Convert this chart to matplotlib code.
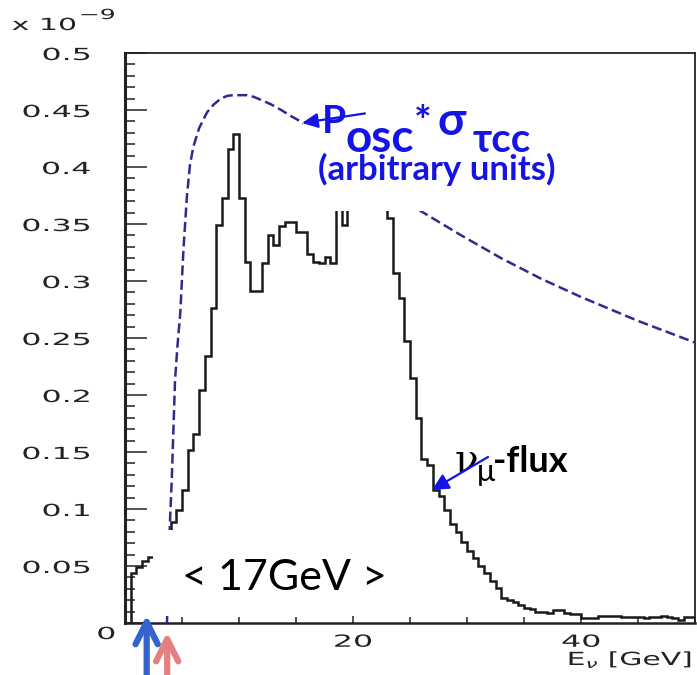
import numpy as np
import matplotlib
matplotlib.use("Agg")
import matplotlib.pyplot as plt
from matplotlib.patches import Rectangle
from matplotlib.patheffects import AbstractPathEffect
from matplotlib.ticker import MultipleLocator, FixedLocator
from matplotlib.transforms import Affine2D, ScaledTranslation

# nu_mu flux, 0.5 GeV bins from 0 to 50 GeV (in units of 1e-9)
bin_width = 0.5
flux = [
    0.000, 0.044, 0.049, 0.054, 0.058, 0.061, 0.066, 0.076, 0.089, 0.099,
    0.117, 0.152, 0.166, 0.204, 0.234, 0.276, 0.349, 0.373, 0.416, 0.429,
    0.373, 0.317, 0.291, 0.291, 0.316, 0.340, 0.332, 0.348, 0.352, 0.352,
    0.343, 0.343, 0.324, 0.317, 0.316, 0.321, 0.316, 0.380, 0.349, 0.400,
    0.420, 0.430, 0.440, 0.430, 0.420, 0.390, 0.355, 0.307, 0.285, 0.247,
    0.215, 0.180, 0.144, 0.139, 0.117, 0.111, 0.099, 0.087, 0.080, 0.071,
    0.063, 0.057, 0.050, 0.044, 0.037, 0.031, 0.022, 0.020, 0.018, 0.016,
    0.013, 0.012, 0.010, 0.010, 0.009, 0.011, 0.011, 0.009, 0.008, 0.008,
    0.004, 0.004, 0.004, 0.006, 0.006, 0.006, 0.006, 0.005, 0.005, 0.005,
    0.005, 0.004, 0.005, 0.005, 0.006, 0.005, 0.004, 0.003, 0.005, 0.005,
]

# P_osc * sigma_tau_CC (arbitrary units)
osc_energy = [3.68, 3.95, 4.1, 4.24, 4.39, 4.6, 4.85, 5.14, 5.43, 5.7, 6.0,
              6.5, 7.2, 7.8, 8.4, 9.0, 9.5, 10.7, 11.3, 11.9, 12.8, 13.7,
              14.5, 15.4, 17.0, 20.0, 23.0, 26.0, 29.5, 33.0, 36.5, 40.0,
              45.0, 50.0]
osc_sigma = [0.0, 0.09, 0.125, 0.168, 0.213, 0.243, 0.272, 0.33, 0.374, 0.402,
             0.418, 0.434, 0.448, 0.455, 0.460, 0.4625, 0.463, 0.463, 0.4615,
             0.459, 0.455, 0.450, 0.445, 0.440, 0.428, 0.405, 0.382, 0.361,
             0.340, 0.320, 0.302, 0.286, 0.265, 0.246]

# energy markers below the axis
marker_energies = [1.9, 3.7]
marker_colors = ["#3463CD", "#E58080"]
marker_tips = [0.007, -0.008]

ytick_values = [0, 0.05, 0.1, 0.15, 0.2, 0.25, 0.3, 0.35, 0.4, 0.45, 0.5]
ytick_labels = ["0", "0.05", "0.1", "0.15", "0.2", "0.25", "0.3", "0.35",
                "0.4", "0.45", "0.5"]
xtick_values = [0, 20, 40]
xtick_labels = ["", "20", "40"]

BLUE = "#1414E6"
INK = "#222222"
sans = ["Lato", "Open Sans", "DejaVu Sans"]


class WideGlyphs(AbstractPathEffect):
    """Draw text glyphs stretched horizontally about one edge."""

    def __init__(self, sx, anchor="left"):
        super().__init__()
        self.sx = sx
        self.anchor = anchor

    def draw_path(self, renderer, gc, tpath, affine, rgbFace=None):
        ext = tpath.get_extents(affine)
        if self.anchor == "left":
            x0 = ext.x0
        elif self.anchor == "right":
            x0 = ext.x1
        else:
            x0 = 0.5 * (ext.x0 + ext.x1)
        stretch = Affine2D().translate(-x0, 0).scale(self.sx, 1).translate(x0, 0)
        renderer.draw_path(gc, tpath, affine + stretch, rgbFace)


fig = plt.figure(figsize=(6.97, 6.75), dpi=100)
ax = fig.add_axes([125 / 697, 52 / 675, 570 / 697, 570 / 675])
ax.set_xlim(0, 50)
ax.set_ylim(0, 0.5)

edges = np.arange(len(flux) + 1) * bin_width
ax.stairs(flux, edges, baseline=0, color="#1a1a1a", lw=1.8, zorder=2)
ax.plot(osc_energy, osc_sigma, color="#2c2c8f", lw=1.8,
        dashes=(4, 1.8), zorder=3)

# white label backgrounds
ax.add_patch(Rectangle((15.6, 0.3614), 23.6, 0.11, facecolor="white",
                       edgecolor="none", zorder=4))
ax.add_patch(Rectangle((2.46, 0.006), 21.6, 0.0756, facecolor="white",
                       edgecolor="none", zorder=4))

# axes styling
for s in ax.spines.values():
    s.set_color(INK)
ax.spines["left"].set_linewidth(2.2)
ax.spines["bottom"].set_linewidth(1.8)
ax.spines["top"].set_linewidth(1.3)
ax.spines["right"].set_linewidth(1.3)

ax.yaxis.set_major_locator(FixedLocator(ytick_values))
ax.yaxis.set_minor_locator(MultipleLocator(0.01))
ax.set_yticklabels(ytick_labels)
ax.xaxis.set_major_locator(FixedLocator(xtick_values))
ax.xaxis.set_minor_locator(MultipleLocator(5))
ax.set_xticklabels(xtick_labels)

ax.tick_params(axis="y", which="major", direction="in", length=16, width=1.1,
               pad=25, labelsize=12, colors=INK)
ax.tick_params(axis="y", which="minor", direction="in", length=7, width=1.1,
               colors=INK)
ax.tick_params(axis="x", which="major", direction="in", length=6, width=1.1,
               pad=7, labelsize=12, colors=INK)
ax.tick_params(axis="x", which="minor", direction="in", length=4.5, width=1.1,
               colors=INK)

for t in ax.yaxis.get_major_ticks():
    t.label1.set_family("DejaVu Sans")
    t.label1.set_path_effects([WideGlyphs(1.9, "right")])
for t in ax.xaxis.get_major_ticks():
    t.label1.set_family("DejaVu Sans")
    t.label1.set_path_effects([WideGlyphs(1.9, "center")])

zero_lab = ax.yaxis.get_major_ticks()[0].label1
zero_lab.set_transform(zero_lab.get_transform()
                       + ScaledTranslation(18 / 72, -6.5 / 72, fig.dpi_scale_trans))

# axis scale factor and axis title
fig.text(12 / 697, 1 - 30 / 675, "x 10", fontsize=12,
         family="DejaVu Sans", color=INK, ha="left", va="baseline",
         path_effects=[WideGlyphs(1.8, "left")])
fig.text(80 / 697, 1 - 19 / 675, "\u22129", fontsize=10,
         family="DejaVu Sans", color=INK, ha="left", va="baseline",
         path_effects=[WideGlyphs(1.8, "left")])
fig.text(692 / 697, 1 - 665 / 675, r"E$_{\nu}$ [GeV]", fontsize=13,
         family="DejaVu Sans", color=INK, ha="right", va="baseline",
         path_effects=[WideGlyphs(1.65, "right")])

# P_osc * sigma label
ax.text(17.28, 0.430, "P", fontsize=28, fontweight="bold", family=sans,
        color=BLUE, zorder=6)
ax.text(19.3, 0.4134, "osc", fontsize=33, fontweight="bold", family=sans,
        color=BLUE, zorder=6)
ax.text(25.3, 0.454, "*", fontsize=30, fontweight="bold", family=sans,
        color=BLUE, va="top", zorder=6)
ax.text(27.4, 0.428, "σ", fontsize=33, fontweight="bold", family=sans,
        color=BLUE, zorder=6)
ax.text(30.5, 0.413, "τcc", fontsize=29, fontweight="bold", family=sans,
        color=BLUE, zorder=6)
ax.text(16.9, 0.3886, "(arbitrary units)", fontsize=25, fontweight="bold",
        family=sans, color=BLUE, zorder=6)
ax.annotate("", xy=(15.53, 0.4386), xytext=(21.05, 0.447),
            arrowprops=dict(arrowstyle="-|>,head_length=0.95,head_width=0.45",
                            color=BLUE, lw=1.6, shrinkA=0, shrinkB=0,
                            mutation_scale=10), zorder=7)

# nu_mu flux label
ax.text(28.95, 0.1325, "ν", fontsize=28, family=["DejaVu Serif"],
        color="black", zorder=6)
ax.text(30.9, 0.125, "μ", fontsize=22, family=sans, color="black", zorder=6)
ax.text(32.3, 0.1325, "-flux", fontsize=26, fontweight="bold", family=sans,
        color="black", zorder=6)
ax.annotate("", xy=(26.93, 0.1167), xytext=(31.84, 0.1456),
            arrowprops=dict(arrowstyle="-|>,head_length=1.0,head_width=0.5",
                            color=BLUE, lw=1.6, shrinkA=0, shrinkB=0,
                            mutation_scale=10), zorder=7)

# mean energy label
ax.text(5.0, 0.029, "< 17GeV >", fontsize=31, family=sans, color="black",
        zorder=6)

# energy markers
for e, c, tip in zip(marker_energies, marker_colors, marker_tips):
    ax.annotate("", xy=(e, tip), xycoords="data",
                xytext=(e, 0), textcoords=("data", "figure pixels"),
                arrowprops=dict(arrowstyle="->,head_length=0.8,head_width=0.4",
                                color=c, lw=4.5, shrinkA=0, shrinkB=0,
                                mutation_scale=20),
                annotation_clip=False, zorder=8)

fig.savefig("out.png", dpi=100, facecolor="white")
